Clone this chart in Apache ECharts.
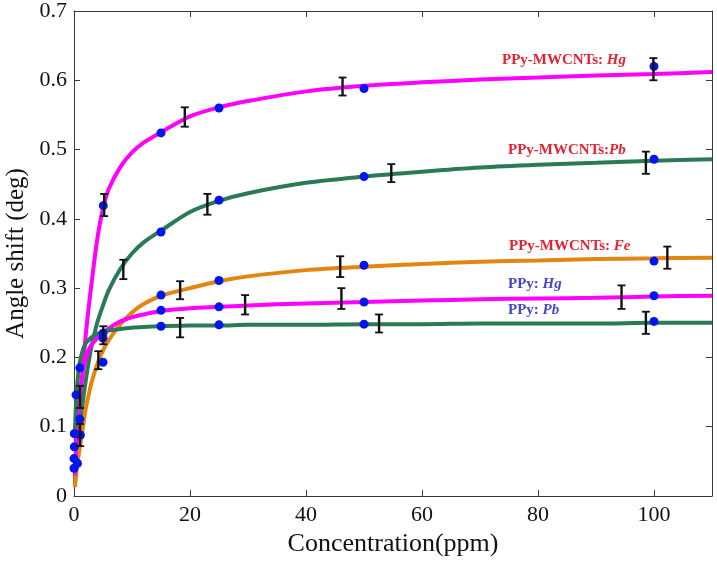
<!DOCTYPE html>
<html>
<head>
<meta charset="utf-8">
<script src="https://cdn.jsdelivr.net/npm/echarts@6/dist/echarts.min.js"></script>
<style>html,body{margin:0;padding:0;background:#fff}#c{width:717px;height:564px}</style>
</head>
<body>
<div id="c"></div>
<script>
// ---- data ----
const xTicks = [0, 20, 40, 60, 80, 100];
const yTicks = [0, 0.1, 0.2, 0.3, 0.4, 0.5, 0.6, 0.7];

// fitted curves sampled at these concentrations
const curveX = [0.15, 0.3, 0.5, 0.75, 1, 1.5, 2, 2.5, 3, 4, 5, 6, 8, 10, 12, 15, 20, 25, 30, 40, 50, 60, 70, 80, 90, 100, 110];
const curveMwHg = [0.025, 0.05, 0.08, 0.112, 0.14, 0.18, 0.23, 0.27, 0.305, 0.37, 0.415, 0.443, 0.475, 0.496, 0.51, 0.525, 0.548, 0.561, 0.57, 0.584, 0.592, 0.597, 0.601, 0.604, 0.607, 0.609, 0.612];
const curveMwPb = [0.018, 0.035, 0.055, 0.078, 0.1, 0.135, 0.165, 0.192, 0.215, 0.25, 0.275, 0.297, 0.328, 0.35, 0.366, 0.383, 0.41, 0.426, 0.437, 0.452, 0.461, 0.468, 0.474, 0.478, 0.481, 0.484, 0.486];
const curveMwFe = [0.013, 0.025, 0.04, 0.056, 0.07, 0.097, 0.125, 0.145, 0.163, 0.19, 0.21, 0.225, 0.248, 0.265, 0.277, 0.289, 0.3, 0.31, 0.317, 0.326, 0.331, 0.335, 0.338, 0.34, 0.342, 0.343, 0.344];
const curvePHg = [0.03, 0.06, 0.09, 0.12, 0.145, 0.178, 0.198, 0.21, 0.218, 0.228, 0.235, 0.242, 0.252, 0.258, 0.262, 0.267, 0.271, 0.273, 0.275, 0.278, 0.28, 0.282, 0.284, 0.285, 0.286, 0.288, 0.289];
const curvePPb = [0.09, 0.125, 0.155, 0.178, 0.193, 0.21, 0.22, 0.225, 0.229, 0.234, 0.237, 0.239, 0.241, 0.243, 0.244, 0.245, 0.246, 0.246, 0.247, 0.247, 0.248, 0.248, 0.249, 0.249, 0.249, 0.25, 0.25];

// measured points (blue dots)
const dotX = [5.05, 15, 25, 50, 100, 15, 25, 50, 100, 15, 25, 50, 100, 15, 25, 50, 100, 15, 25, 50, 100, 5, 5, 5, 1, 0.35, 1.1, 0.05, 0.05, 0, 0.6, 0, 1];
const dotY = [0.419, 0.524, 0.56, 0.588, 0.62, 0.381, 0.427, 0.461, 0.486, 0.29, 0.311, 0.333, 0.339, 0.268, 0.273, 0.28, 0.289, 0.245, 0.247, 0.248, 0.252, 0.235, 0.228, 0.193, 0.185, 0.146, 0.088, 0.09, 0.071, 0.054, 0.047, 0.04, 0.111];

// error bars: centre x, centre y, half-length
const errX = [5.2, 19.1, 46.3, 99.9, 8.5, 23, 54.7, 98.6, 18.3, 45.9, 102.3, 4.2, 29.5, 46.1, 94.4, 18.3, 52.6, 98.6, 5.05, 1.03, 1.03];
const errY = [0.42, 0.547, 0.591, 0.616, 0.327, 0.421, 0.466, 0.481, 0.297, 0.331, 0.344, 0.196, 0.276, 0.285, 0.287, 0.243, 0.249, 0.25, 0.232, 0.143, 0.088];
const errE = [0.016, 0.014, 0.013, 0.016, 0.014, 0.015, 0.013, 0.016, 0.013, 0.015, 0.016, 0.013, 0.014, 0.015, 0.017, 0.014, 0.013, 0.016, 0.013, 0.016, 0.016];

const zip = (xs, ys) => xs.map((x, i) => [x, ys[i]]);
const FONT = '"Liberation Serif", "Times New Roman", serif';
const PINK = '#ff00ff', GREEN = '#2b7a55', ORANGE = '#e3860f', BLUE = '#0016f0';
const AX = '#3a3a3a';

function curve(name, ys, color) {
  return { name, type: 'line', data: zip(curveX, ys), smooth: 0.3, showSymbol: false,
    lineStyle: { color, width: 4 }, z: 2, silent: true };
}

const chart = echarts.init(document.getElementById('c'), null, { renderer: 'canvas' });
const axCommon = {
  axisLine: { show: true, onZero: false, lineStyle: { color: AX, width: 1 } },
  axisTick: { show: true, inside: true, length: 6, lineStyle: { color: AX } },
  splitLine: { show: false }
};
chart.setOption({
  animation: false,
  backgroundColor: '#fff',
  grid: { left: 74, top: 11, right: 5, bottom: 68, containLabel: false, outerBoundsMode: 'none' },
  xAxis: [
    Object.assign({ type: 'value', min: 0, max: 110, interval: 20, position: 'bottom',
      name: 'Concentration(ppm)', nameLocation: 'middle', nameGap: 34,
      nameTextStyle: { fontFamily: FONT, fontSize: 26, color: '#111' },
      axisLabel: { fontFamily: FONT, fontSize: 22, color: '#111', margin: 8, showMaxLabel: false,
        formatter: v => xTicks.includes(v) ? String(v) : '' } }, axCommon),
    Object.assign({ type: 'value', min: 0, max: 110, interval: 20, position: 'top',
      axisLabel: { show: false } }, axCommon)
  ],
  yAxis: [
    Object.assign({ type: 'value', min: 0, max: 0.7, interval: 0.1, position: 'left',
      name: 'Angle shift (deg)', nameLocation: 'middle', nameGap: 45, nameRotate: 90,
      nameTextStyle: { fontFamily: FONT, fontSize: 25, color: '#111' },
      axisLabel: { fontFamily: FONT, fontSize: 22, color: '#111', margin: 7,
        formatter: v => { const t = yTicks.find(k => Math.abs(k - v) < 1e-9); return t === undefined ? '' : (t === 0 ? '0' : t.toFixed(1)); } } }, axCommon),
    Object.assign({ type: 'value', min: 0, max: 0.7, interval: 0.1, position: 'right',
      axisLabel: { show: false } }, axCommon)
  ],
  series: [
    curve('PPy-MWCNTs: Hg', curveMwHg, PINK),
    curve('PPy-MWCNTs: Pb', curveMwPb, GREEN),
    curve('PPy-MWCNTs: Fe', curveMwFe, ORANGE),
    curve('PPy: Hg', curvePHg, PINK),
    curve('PPy: Pb', curvePPb, GREEN),
    { name: 'data', type: 'scatter', data: zip(dotX, dotY), symbol: 'circle', symbolSize: 9,
      itemStyle: { color: BLUE, opacity: 1 }, z: 3, silent: true },
    { name: 'err', type: 'custom', z: 4, silent: true,
      data: errX.map((x, i) => [x, errY[i], errE[i]]),
      renderItem: (params, api) => {
        const x = api.value(0), y = api.value(1), e = api.value(2);
        const t = api.coord([x, y + e]), b = api.coord([x, y - e]);
        const hw = 4, st = { stroke: '#111', lineWidth: 2.4 };
        return { type: 'group', children: [
          { type: 'line', shape: { x1: t[0], y1: t[1], x2: b[0], y2: b[1] }, style: st },
          { type: 'line', shape: { x1: t[0] - hw, y1: t[1], x2: t[0] + hw, y2: t[1] }, style: { stroke: '#111', lineWidth: 1.8 } },
          { type: 'line', shape: { x1: b[0] - hw, y1: b[1], x2: b[0] + hw, y2: b[1] }, style: { stroke: '#111', lineWidth: 1.8 } }
        ] };
      } }
  ],
  graphic: [
    { type: 'text', left: 502, top: 53, z: 10, style: { text: '{b|PPy-MWCNTs: }{i|Hg}',
      rich: { b: { fontFamily: FONT, fontSize: 15, fontWeight: 'bold', fill: '#e52330' }, i: { fontFamily: FONT, fontSize: 15, fontWeight: 'bold', fontStyle: 'italic', fill: '#e52330' } } } },
    { type: 'text', left: 508, top: 143, z: 10, style: { text: '{b|PPy-MWCNTs:}{i|Pb}',
      rich: { b: { fontFamily: FONT, fontSize: 15, fontWeight: 'bold', fill: '#e52330' }, i: { fontFamily: FONT, fontSize: 15, fontWeight: 'bold', fontStyle: 'italic', fill: '#e52330' } } } },
    { type: 'text', left: 509, top: 239, z: 10, style: { text: '{b|PPy-MWCNTs: }{i|Fe}',
      rich: { b: { fontFamily: FONT, fontSize: 15, fontWeight: 'bold', fill: '#e52330' }, i: { fontFamily: FONT, fontSize: 15, fontWeight: 'bold', fontStyle: 'italic', fill: '#e52330' } } } },
    { type: 'text', left: 508, top: 277, z: 10, style: { text: '{b|PPy: }{i|Hg}',
      rich: { b: { fontFamily: FONT, fontSize: 15, fontWeight: 'bold', fill: '#4448c8' }, i: { fontFamily: FONT, fontSize: 15, fontWeight: 'bold', fontStyle: 'italic', fill: '#4448c8' } } } },
    { type: 'text', left: 508, top: 303, z: 10, style: { text: '{b|PPy: }{i|Pb}',
      rich: { b: { fontFamily: FONT, fontSize: 15, fontWeight: 'bold', fill: '#4448c8' }, i: { fontFamily: FONT, fontSize: 15, fontWeight: 'bold', fontStyle: 'italic', fill: '#4448c8' } } } }
  ]
});
</script>
</body>
</html>
